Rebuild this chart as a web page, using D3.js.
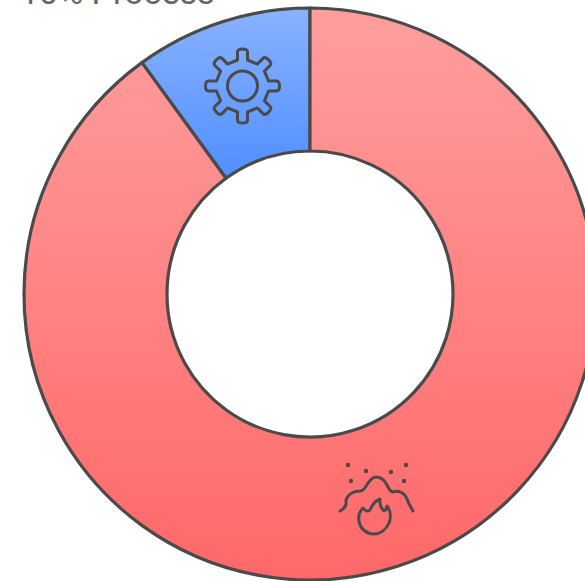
<!DOCTYPE html>
<html>
<head>
<meta charset="utf-8">
<style>html,body{margin:0;padding:0;background:#fff;overflow:hidden}</style>
<script src="https://cdnjs.cloudflare.com/ajax/libs/d3/7.8.5/d3.min.js"></script>
</head>
<body>
<svg id="chart" width="585" height="581"></svg>
<script>
// Share of each category, drawn clockwise starting with the blue wedge
const categories = ["Process", "Combustion"];
const shares = [10, 90];
const captions = ["10% Process"];
const topColors = ["#8ab2ff", "#ff9e9e"];
const bottomColors = ["#4f8fff", "#ff6868"];

const cx = 310, cy = 294, outerR = 286, innerR = 143;
const ink = "#4a4a4a";
const svg = d3.select("#chart");
const defs = svg.append("defs");

// Vertical gradients: each one spans the height of its own slice
const arcOffset = Math.PI * 2 * shares[0] / 100;
const pie = d3.pie().sort(null).value(d => d)
  .startAngle(-arcOffset)
  .endAngle(2 * Math.PI - arcOffset);
const arc = d3.arc().innerRadius(innerR).outerRadius(outerR);

categories.forEach((c, i) => {
  const g = defs.append("linearGradient")
    .attr("id", "grad" + i)
    .attr("x1", 0).attr("x2", 0).attr("y1", 0).attr("y2", 1);
  g.append("stop").attr("offset", 0).attr("stop-color", topColors[i]);
  g.append("stop").attr("offset", 1).attr("stop-color", bottomColors[i]);
});

svg.append("g")
  .attr("transform", `translate(${cx},${cy})`)
  .selectAll("path")
  .data(pie(shares))
  .join("path")
  .attr("d", arc)
  .attr("fill", (d, i) => `url(#grad${i})`)
  .attr("stroke", ink)
  .attr("stroke-width", 3.2)
  .attr("stroke-linejoin", "round");

// Caption above the ring, cut off by the top edge of the page
svg.append("text")
  .attr("x", 20).attr("y", 4)
  .attr("font-family", "Roboto, 'Liberation Sans', sans-serif")
  .attr("font-size", 34)
  .attr("fill", "#666")
  .text(captions[0]);

// Gear icon for the blue wedge
const gear = svg.append("g")
  .attr("transform", "translate(242.5,86)")
  .attr("fill", "none").attr("stroke", ink)
  .attr("stroke-width", 3).attr("stroke-linejoin", "round").attr("stroke-linecap", "round");
gear.append("circle").attr("r", 15);
const teeth = d3.range(8).map(i => i * 45);
const outer = 37, base = 26, tw = 5;
let gearPath = "";
teeth.forEach((deg, i) => {
  const a = (deg - 90) * Math.PI / 180;
  const ux = Math.cos(a), uy = Math.sin(a), px = -uy, py = ux;
  const pt = (r, s) => `${(ux * r + px * s).toFixed(2)},${(uy * r + py * s).toFixed(2)}`;
  const a2 = (deg + 45 - 90) * Math.PI / 180;
  const nx = Math.cos(a2), ny = Math.sin(a2), qx = -ny, qy = nx;
  const nextPt = `${(nx * base + qx * -tw).toFixed(2)},${(ny * base + qy * -tw).toFixed(2)}`;
  gearPath += (i ? "" : "M" + pt(base, -tw)) + "L" + pt(outer - 3, -tw)
    + "Q" + pt(outer, -tw) + " " + pt(outer, 0)
    + "Q" + pt(outer, tw) + " " + pt(outer - 3, tw) + "L" + pt(base, tw)
    + "L" + nextPt;
});
gear.append("path").attr("d", gearPath + "Z");

// Fire-and-smoke icon for the red ring
const fire = svg.append("g")
  .attr("transform", "translate(325,450)")
  .attr("fill", "none").attr("stroke", ink)
  .attr("stroke-width", 3).attr("stroke-linejoin", "round").attr("stroke-linecap", "round");
fire.append("path")
  .attr("d", "M15,61 C19,59 22,56 21,50 C23,44 29,41 35,41 C39,41 41,36 43,33 C46,29 48,27 51,27 C56,27 60,31 62,35 C64,39 65,42 68,42 C74,40 80,43 82,49 C84,55 86,57 88,61");
fire.append("path")
  .attr("d", "M38,58 C40,61 43,62 45,60 C47,55 50,51 55,49 C54,55 56,58 59,61 C61,60 62,58 62,56 C66,61 66,68 64,73 C61,80 55,84 49,84 C42,84 35,79 34,71 C33,66 35,61 38,58Z");
const sparks = [[23,15],[41,21],[66,22],[81,15],[26,31],[79,31]];
fire.selectAll("circle").data(sparks).join("circle")
  .attr("cx", d => d[0]).attr("cy", d => d[1]).attr("r", 2.2)
  .attr("fill", ink).attr("stroke", "none");
</script>
</body>
</html>
